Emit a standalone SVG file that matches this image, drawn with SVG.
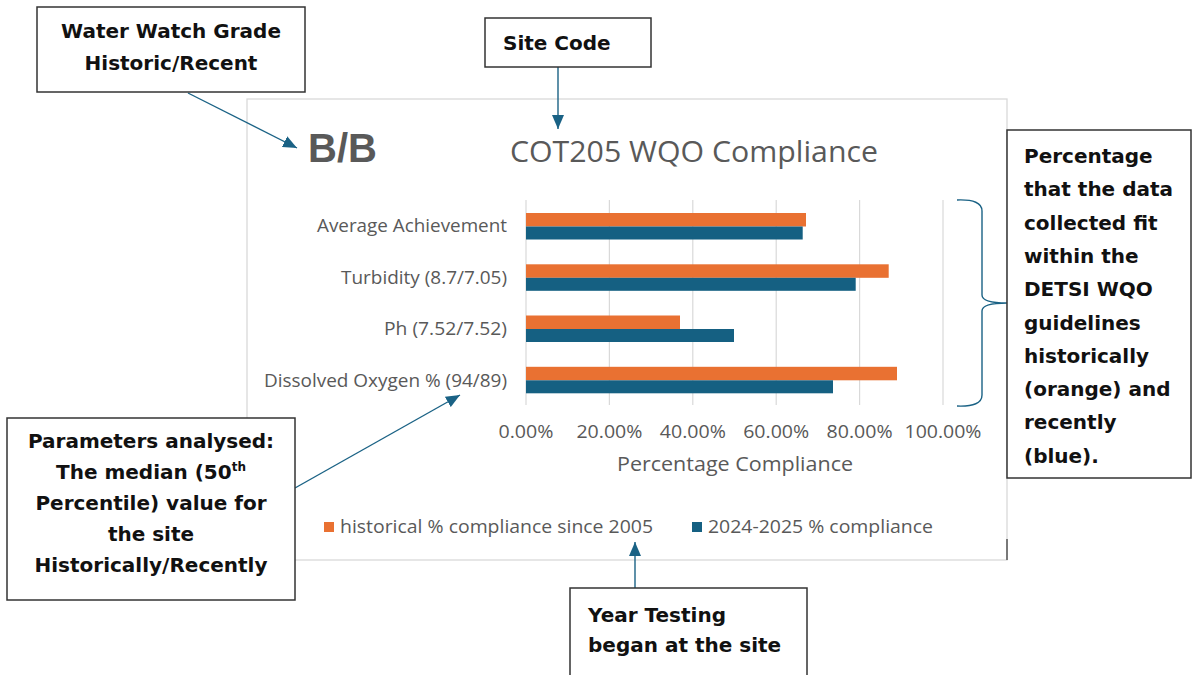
<svg xmlns="http://www.w3.org/2000/svg" width="1192" height="675" viewBox="0 0 1192 675">
<defs>
<marker id="ah2" viewBox="0 0 14 12" refX="14" refY="6" markerWidth="14" markerHeight="12" markerUnits="userSpaceOnUse" orient="auto">
<path d="M0,0 L14,6 L0,12 Z" fill="#1a6285"/>
</marker>
</defs>
<style>
.frame{fill:#fff;stroke:#d9d9d9;stroke-width:1.3}
.grid{stroke:#d9d9d9;stroke-width:1.2}
.org{fill:#e97132}
.blu{fill:#156082}
.ct{font-family:"Open Sans","Liberation Sans",sans-serif;fill:#595959}
.cat{font-size:18.5px;text-anchor:end}
.tick{font-size:18.5px;text-anchor:middle}
.box{fill:#fff;stroke:#333;stroke-width:1.5}
.bt{font-family:"DejaVu Sans","Liberation Sans",sans-serif;font-weight:bold;font-size:20px;fill:#111}
.conn{stroke:#1a6285;stroke-width:1.4;fill:none}
</style>
<rect width="1192" height="675" fill="#fff"/>

<g id="chart">
<rect class="frame" x="247" y="99" width="760" height="461"/>
<line x1="1007" y1="539" x2="1007" y2="560" stroke="#555" stroke-width="1.5"/>
<text x="308" y="162" font-weight="bold" font-size="40" fill="#595959" style="font-family:'Liberation Sans',Arial,sans-serif">B/B</text>
<text class="ct" x="694" y="162" font-size="29" text-anchor="middle" textLength="368" lengthAdjust="spacingAndGlyphs">COT205 WQO Compliance</text>
<g id="gridlines">
<line class="grid" x1="526" y1="200" x2="526" y2="405"/>
<line class="grid" x1="609.4" y1="200" x2="609.4" y2="405"/>
<line class="grid" x1="692.8" y1="200" x2="692.8" y2="405"/>
<line class="grid" x1="776.2" y1="200" x2="776.2" y2="405"/>
<line class="grid" x1="859.6" y1="200" x2="859.6" y2="405"/>
<line class="grid" x1="943" y1="200" x2="943" y2="405"/>
</g>
<g id="bars">
<rect class="org" x="526" y="213" width="280" height="13.5"/>
<rect class="blu" x="526" y="226.5" width="276.7" height="13"/>
<rect class="org" x="526" y="264.3" width="362.7" height="13.5"/>
<rect class="blu" x="526" y="277.8" width="329.7" height="13"/>
<rect class="org" x="526" y="315.5" width="154" height="13.5"/>
<rect class="blu" x="526" y="329" width="208" height="13"/>
<rect class="org" x="526" y="366.8" width="371" height="13.5"/>
<rect class="blu" x="526" y="380.3" width="307" height="13"/>
</g>
<g id="categories">
<text class="ct cat" x="507" y="232" textLength="190" lengthAdjust="spacingAndGlyphs">Average Achievement</text>
<text class="ct cat" x="507" y="283.5" textLength="166" lengthAdjust="spacingAndGlyphs">Turbidity (8.7/7.05)</text>
<text class="ct cat" x="507" y="335" textLength="123" lengthAdjust="spacingAndGlyphs">Ph (7.52/7.52)</text>
<text class="ct cat" x="507" y="386.5" textLength="243" lengthAdjust="spacingAndGlyphs">Dissolved Oxygen % (94/89)</text>
</g>
<g id="ticks">
<text class="ct tick" x="526" y="438" textLength="55" lengthAdjust="spacingAndGlyphs">0.00%</text>
<text class="ct tick" x="609.4" y="438" textLength="66" lengthAdjust="spacingAndGlyphs">20.00%</text>
<text class="ct tick" x="692.8" y="438" textLength="66" lengthAdjust="spacingAndGlyphs">40.00%</text>
<text class="ct tick" x="776.2" y="438" textLength="66" lengthAdjust="spacingAndGlyphs">60.00%</text>
<text class="ct tick" x="859.6" y="438" textLength="66" lengthAdjust="spacingAndGlyphs">80.00%</text>
<text class="ct tick" x="943" y="438" textLength="77" lengthAdjust="spacingAndGlyphs">100.00%</text>
</g>
<text class="ct" x="735" y="471" font-size="19.5" text-anchor="middle" textLength="236" lengthAdjust="spacingAndGlyphs">Percentage Compliance</text>
<g id="legend">
<rect class="org" x="324" y="522" width="10" height="10"/>
<text class="ct" x="340" y="533" font-size="18.5" textLength="313" lengthAdjust="spacingAndGlyphs">historical % compliance since 2005</text>
<rect class="blu" x="692" y="522" width="10" height="10"/>
<text class="ct" x="708" y="533" font-size="18.5" textLength="225" lengthAdjust="spacingAndGlyphs">2024-2025 % compliance</text>
</g>
</g>

<g id="connectors">
<line class="conn" x1="188" y1="93" x2="297" y2="148" marker-end="url(#ah2)"/>
<line class="conn" x1="558" y1="67" x2="558" y2="129" marker-end="url(#ah2)"/>
<line class="conn" x1="295" y1="488" x2="460" y2="395" marker-end="url(#ah2)"/>
<line class="conn" x1="635" y1="588" x2="635" y2="542" marker-end="url(#ah2)"/>
<path class="conn" d="M957,200 Q982,199 982,211 L982,295 Q982,303 1007,303 Q982,303 982,311 L982,395 Q982,407 957,406"/>
</g>

<g id="grade-callout">
<rect class="box" x="37" y="7" width="268" height="85"/>
<text class="bt" x="171" y="38" text-anchor="middle">Water Watch Grade</text>
<text class="bt" x="171" y="70" text-anchor="middle">Historic/Recent</text>
</g>

<g id="site-callout">
<rect class="box" x="485" y="18" width="166" height="49"/>
<text class="bt" x="503" y="50">Site Code</text>
</g>

<g id="percentage-callout">
<rect class="box" x="1007" y="130" width="184" height="348"/>
<text class="bt" x="1024" y="163">Percentage</text>
<text class="bt" x="1024" y="196.3">that the data</text>
<text class="bt" x="1024" y="229.6">collected fit</text>
<text class="bt" x="1024" y="262.9">within the</text>
<text class="bt" x="1024" y="296.2">DETSI WQO</text>
<text class="bt" x="1024" y="329.5">guidelines</text>
<text class="bt" x="1024" y="362.8">historically</text>
<text class="bt" x="1024" y="396.1">(orange) and</text>
<text class="bt" x="1024" y="429.4">recently</text>
<text class="bt" x="1024" y="462.7">(blue).</text>
</g>

<g id="parameters-callout">
<rect class="box" x="7" y="418" width="288" height="182"/>
<text class="bt" x="151" y="448" text-anchor="middle">Parameters analysed:</text>
<text class="bt" x="151" y="479" text-anchor="middle">The median (50<tspan font-size="12" dy="-8">th</tspan></text>
<text class="bt" x="151" y="510" text-anchor="middle">Percentile) value for</text>
<text class="bt" x="151" y="541" text-anchor="middle">the site</text>
<text class="bt" x="151" y="572" text-anchor="middle">Historically/Recently</text>
</g>

<g id="year-callout">
<rect class="box" x="570" y="588" width="237" height="100"/>
<text class="bt" x="588" y="622">Year Testing</text>
<text class="bt" x="588" y="652">began at the site</text>
</g>
</svg>
